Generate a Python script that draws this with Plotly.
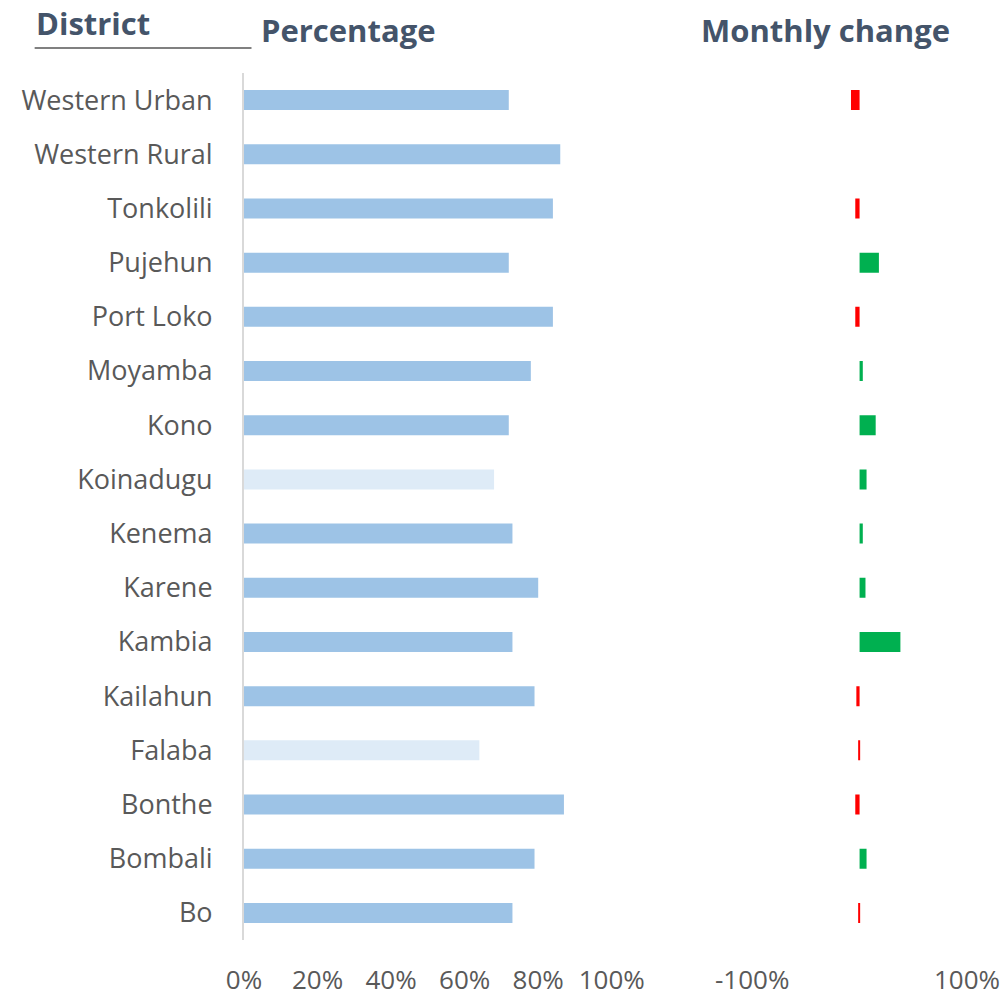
import plotly.graph_objects as go

# District coverage and month-on-month change
districts = ["Western Urban", "Western Rural", "Tonkolili", "Pujehun", "Port Loko",
             "Moyamba", "Kono", "Koinadugu", "Kenema", "Karene", "Kambia",
             "Kailahun", "Falaba", "Bonthe", "Bombali", "Bo"]
percentage = [0.72, 0.86, 0.84, 0.72, 0.84, 0.78, 0.72, 0.68, 0.73, 0.80, 0.73,
              0.79, 0.64, 0.87, 0.79, 0.73]
monthly_change = [-0.08, 0.0, -0.04, 0.18, -0.04, 0.03, 0.15, 0.065, 0.03, 0.055,
                  0.38, -0.03, -0.005, -0.04, 0.065, -0.005]
light_districts = ["Koinadugu", "Falaba"]

pct_ticks = [0, 0.2, 0.4, 0.6, 0.8, 1.0]
pct_labels = ["0%", "20%", "40%", "60%", "80%", "100%"]
chg_ticks = [-1, 1]
chg_labels = ["-100%", "100%"]

W, H = 1008, 996
L, R, T, B = 243.5, 967.0, 73.0, 940.0
PW, PH = R - L, B - T

def px_x(px):
    return (px - L) / PW

def px_y(py):
    return (B - py) / PH

bar_colors = ["#DEEBF7" if d in light_districts else "#9DC3E6" for d in districts]
chg_colors = ["#00B050" if v > 0 else "#FF0000" for v in monthly_change]

fig = go.Figure()
fig.add_trace(go.Bar(
    y=districts, x=percentage, orientation="h",
    marker=dict(color=bar_colors, line=dict(width=0)),
    xaxis="x", yaxis="y", hoverinfo="x+y",
))
fig.add_trace(go.Bar(
    y=districts, x=monthly_change, orientation="h",
    marker=dict(color=chg_colors, line=dict(width=0)),
    xaxis="x2", yaxis="y", hoverinfo="x+y",
))

label_font = dict(family="Open Sans", size=27, color="#595959")
tick_font = dict(family="Open Sans", size=26, color="#595959")
head_font = dict(family="Open Sans", size=31, color="#44546A")

fig.update_layout(
    width=W, height=H,
    margin=dict(l=L, r=W - R, t=T, b=H - B, autoexpand=False),
    paper_bgcolor="white", plot_bgcolor="white",
    showlegend=False, bargap=0.63,
    xaxis=dict(domain=[0, px_x(611.5)], range=[0, 1], tickvals=pct_ticks,
               ticktext=pct_labels, showgrid=False, zeroline=False,
               showline=False, tickfont=tick_font, ticklabelstandoff=22,
               anchor="y", automargin=False),
    xaxis2=dict(domain=[px_x(752), 1], range=[-1, 1], tickvals=chg_ticks,
                ticktext=chg_labels, showgrid=False, zeroline=False,
                showline=False, tickfont=tick_font, ticklabelstandoff=22,
                anchor="y", automargin=False),
    yaxis=dict(categoryorder="array", categoryarray=districts,
               autorange="reversed", showgrid=False, zeroline=False,
               showline=True, linecolor="#D9D9D9", linewidth=2,
               tickfont=label_font, ticklabelstandoff=24, anchor="x",
               automargin=False),
)

fig.add_annotation(text="<b>District</b>", x=px_x(33), y=px_y(23),
                   xref="paper", yref="paper", xanchor="left", yanchor="middle",
                   showarrow=False, font=head_font)
fig.add_annotation(text="<b>Percentage</b>", x=px_x(259), y=px_y(30),
                   xref="paper", yref="paper", xanchor="left", yanchor="middle",
                   showarrow=False, font=head_font)
fig.add_annotation(text="<b>Monthly change</b>", x=px_x(699), y=px_y(30),
                   xref="paper", yref="paper", xanchor="left", yanchor="middle",
                   showarrow=False, font=head_font)
fig.add_shape(type="line", xref="paper", yref="paper",
              x0=px_x(34), x1=px_x(251), y0=px_y(48), y1=px_y(48),
              line=dict(color="#808080", width=2))

fig.write_html("out.html")
